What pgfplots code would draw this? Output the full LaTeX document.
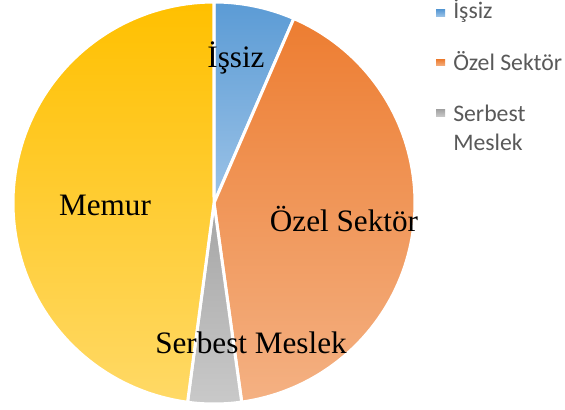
\documentclass[border=0pt]{standalone}
\usepackage{fontspec}
\setmainfont{Liberation Serif}
\newfontfamily\legfont{Carlito}
\usepackage{pgfplots}
\pgfplotsset{compat=1.18}

\definecolor{issizT}{HTML}{5B9BD5}
\definecolor{issizB}{HTML}{9CC3E7}
\definecolor{ozelT}{HTML}{ED7D31}
\definecolor{ozelB}{HTML}{F4B183}
\definecolor{serbT}{HTML}{A5A5A5}
\definecolor{serbB}{HTML}{C9C9C9}
\definecolor{memurT}{HTML}{FFC000}
\definecolor{memurB}{HTML}{FFD966}
\definecolor{legtext}{HTML}{595959}

% axis units are pixels of the 565x410 picture, y measured from the top
% pie centre (214,203), radius 201; slices run clockwise from 12 o'clock
% #1 start share (%), #2 share (%), #3 top colour, #4 bottom colour
\newcommand\pieslice[4]{%
  \addplot[draw=white, line width=2.25pt, line join=round,
    top color=#3, bottom color=#4,
    domain={#1*3.6-90}:{(#1+#2)*3.6-90}, samples=90, variable=\t]
    ({214+201*cos(\t)},{203+201*sin(\t)}) -- (214,203) -- cycle;
}

\begin{document}
\begin{tikzpicture}
\begin{axis}[
    width=423.75pt, height=307.5pt, scale only axis,
    xmin=0, xmax=565, ymin=0, ymax=410, y dir=reverse,
    hide axis, clip=false
]
% shares: İşsiz 6.5, Özel Sektör 41.3, Serbest Meslek 4.3, Memur 47.9
\pieslice{0}{6.5}{issizT}{issizB}
\pieslice{6.5}{41.3}{ozelT}{ozelB}
\pieslice{47.8}{4.3}{serbT}{serbB}
\pieslice{52.1}{47.9}{memurT}{memurB}

\begin{scope}[every node/.style={anchor=base, inner sep=0pt,
    font=\fontsize{23.4}{27}\selectfont}]
\node at (axis cs:236,68) {İşsiz};
\node at (axis cs:344,232) {Özel Sektör};
\node at (axis cs:251,353) {Serbest Meslek};
\node at (axis cs:105,215) {Memur};
\end{scope}

% legend (Memur entry is cut off in the original)
\begin{scope}[every node/.style={anchor=base west, inner sep=0pt,
    text=legtext, font=\legfont\fontsize{17.8}{20}\selectfont}]
\fill[top color=issizT, bottom color=issizB] (axis cs:436,10) rectangle (axis cs:445,16.5);
\node at (axis cs:453,19) {İşsiz};
\fill[top color=ozelT, bottom color=ozelB] (axis cs:436,59.5) rectangle (axis cs:445,66);
\node at (axis cs:453,71) {Özel Sektör};
\fill[top color=serbT, bottom color=serbB] (axis cs:436,110) rectangle (axis cs:445,116.5);
\node at (axis cs:453,122) {Serbest};
\node at (axis cs:453,150.5) {Meslek};
\end{scope}
\end{axis}
\pgfresetboundingbox
\path[use as bounding box] (current axis.south west) rectangle (current axis.north east);
\end{tikzpicture}
\end{document}
